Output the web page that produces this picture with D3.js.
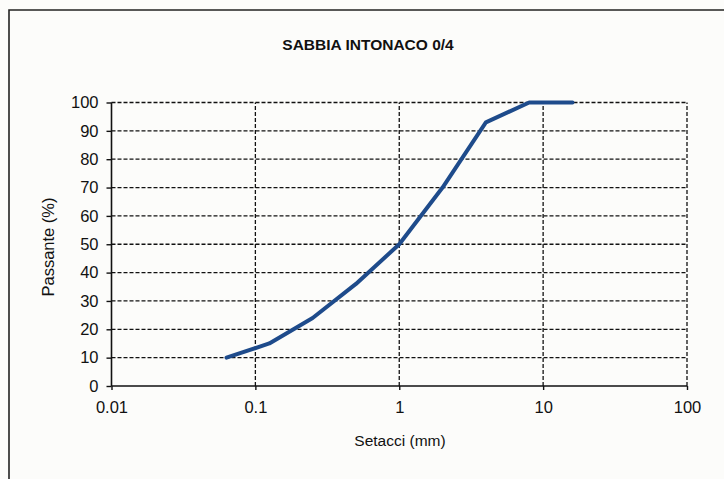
<!DOCTYPE html>
<html>
<head>
<meta charset="utf-8">
<script src="https://cdn.jsdelivr.net/npm/d3@7"></script>
<style>
  body { margin: 0; background: #fcfcfa; }
  svg { display: block; font-family: "Liberation Sans", Arial, sans-serif; }
</style>
</head>
<body>
<div id="container"></div>
<script>
// data
var sieves = [0.063, 0.125, 0.25, 0.5, 1, 2, 4, 8, 16];
var passing = [10, 15, 24, 36, 50, 70, 93, 100, 100];
var xTicks = [0.01, 0.1, 1, 10, 100];
var yTicks = [0, 10, 20, 30, 40, 50, 60, 70, 80, 90, 100];

var width = 724, height = 479;
var margin = {top: 102.5, right: 37, bottom: 93, left: 111.5};

var svg = d3.select("div#container").append("svg")
    .attr("width", width)
    .attr("height", height);

svg.append("rect").attr("width", width).attr("height", height).attr("fill", "#fcfcfa");

// frame of the scanned box
svg.append("path")
    .attr("d", "M9," + height + "V10H" + width)
    .attr("fill", "none")
    .attr("stroke", "#222")
    .attr("stroke-width", 1.6);

var x = d3.scaleLog().domain([0.01, 100]).range([margin.left, width - margin.right]);
var y = d3.scaleLinear().domain([0, 100]).range([height - margin.bottom, margin.top]);

// gridlines
svg.append("g")
    .selectAll("line")
    .data(yTicks.slice(1))
    .enter().append("line")
    .attr("x1", x(0.01)).attr("x2", x(100))
    .attr("y1", d => y(d)).attr("y2", d => y(d))
    .attr("stroke", "#111").attr("stroke-width", 1.3)
    .attr("stroke-dasharray", "4,2");

svg.append("g")
    .selectAll("line")
    .data(xTicks.slice(1))
    .enter().append("line")
    .attr("x1", d => x(d)).attr("x2", d => x(d))
    .attr("y1", y(0)).attr("y2", y(100))
    .attr("stroke", "#111").attr("stroke-width", 1.3)
    .attr("stroke-dasharray", "4,2");

// axes
var xaxis = d3.axisBottom(x).tickValues(xTicks).tickFormat(d3.format("")).tickSize(4).tickPadding(11);
var yaxis = d3.axisLeft(y).tickValues(yTicks).tickSize(5).tickPadding(8);

var gx = svg.append("g")
    .attr("transform", "translate(0," + y(0) + ")")
    .call(xaxis);
var gy = svg.append("g")
    .attr("transform", "translate(" + x(0.01) + ",0)")
    .call(yaxis);

[gx, gy].forEach(function(g) {
  g.select(".domain").attr("stroke", "#111").attr("stroke-width", 1.6);
  g.selectAll(".tick line").attr("stroke", "#111").attr("stroke-width", 1.4);
  g.selectAll(".tick text").attr("fill", "#111").style("font-size", "16.5px");
});
gy.select(".domain").attr("d", "M0," + y(0) + "V" + y(100));
gx.select(".domain").attr("d", "M" + x(0.01) + ",0H" + x(100));

// curve
var line = d3.line()
    .x((d, i) => x(sieves[i]))
    .y(d => y(d));

svg.append("path")
    .datum(passing)
    .attr("d", line)
    .attr("fill", "none")
    .attr("stroke", "#1e4b8b")
    .attr("stroke-width", 4)
    .attr("stroke-linejoin", "round")
    .attr("stroke-linecap", "round");

// titles
svg.append("text")
    .attr("x", 368).attr("y", 50)
    .attr("text-anchor", "middle")
    .style("font-size", "15.5px")
    .style("font-weight", "bold")
    .attr("fill", "#111")
    .text("SABBIA INTONACO 0/4");

svg.append("text")
    .attr("x", 400).attr("y", 446)
    .attr("text-anchor", "middle")
    .style("font-size", "15.5px")
    .attr("fill", "#111")
    .text("Setacci (mm)");

svg.append("text")
    .attr("transform", "translate(54,247) rotate(-90)")
    .attr("text-anchor", "middle")
    .style("font-size", "16.5px")
    .attr("fill", "#111")
    .text("Passante (%)");
</script>
</body>
</html>
